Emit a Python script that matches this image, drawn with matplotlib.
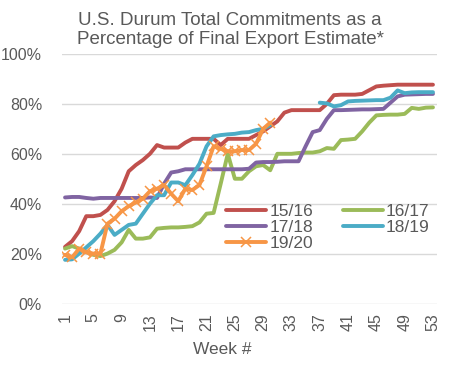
import numpy as np
import matplotlib
matplotlib.use("Agg")
import matplotlib.pyplot as plt

plt.rcParams['font.family'] = ['Liberation Sans', 'DejaVu Sans']

weeks = list(range(1, 54))

# % of final export estimate, by marketing-year week
s1516 = [22.7, 25, 29, 35, 35, 35.5, 37.5, 41, 46, 53, 55.5, 57.5, 60, 63.5, 62.5, 62.5, 62.5, 64.5,
         66, 66, 66, 66, 63.5, 66, 66, 66, 66, 67.5, 69, 71, 73, 76.5, 77.5, 77.5, 77.5, 77.5, 77.5,
         80, 83.5, 83.7, 83.7, 83.7, 84, 85.5, 87, 87.3, 87.5, 87.7, 87.7, 87.7, 87.7, 87.7, 87.7]
s1617 = [22, 23, 22, 20.7, 19.5, 19, 20, 21.5, 24.5, 29.5, 26, 26, 26.5, 30, 30.3, 30.5, 30.5, 30.7,
         31, 32.5, 36, 36.3, 48, 60, 50, 50, 53, 55, 55.5, 53.4, 60, 60, 60, 60.3, 60.5, 60.5, 61,
         62.3, 62, 65.5, 65.7, 66, 69, 72.5, 75.4, 75.6, 75.7, 75.7, 76, 78.4, 78, 78.5, 78.6]
s1718 = [42.5, 42.7, 42.7, 42.3, 42, 42.3, 42.3, 42.3, 42.3, 42.3, 42.3, 42.3, 42.5, 42.3, 48, 52.5,
         53, 53.8, 53.8, 53.8, 53.8, 53.8, 53.8, 53.8, 53.8, 53.8, 54, 56.5, 56.7, 56.7, 56.8, 57, 57,
         57, 63, 68.7, 69.5, 74, 77.5, 77.5, 77.6, 77.7, 77.8, 77.8, 77.9, 78, 80.5, 83, 83.7, 83.8,
         83.9, 84, 84]
s1819 = [17.5, 17.7, 20, 22.5, 25, 28, 31.5, 27.5, 29.5, 31.5, 32, 36, 40, 43.4, 43.4, 48.5, 48.5,
         47.4, 51.5, 56, 63, 67, 67.5, 67.8, 68, 68.5, 68.7, 69.5, 70, 71.5,
         None, None, None, None, None, None,
         80.5, 80.2, 79, 79.5, 81, 81.2, 81.3, 81.4, 81.5, 81.5, 82.5, 85.4, 84.3, 84.6, 84.7, 84.7, 84.7]
s1920 = [19.5, 18.5, 22, 20.5, 20, 20, 32, 34, 37, 39, 40.5, 42, 45, 46, 47.5, 44, 41, 46, 45.5,
         47.5, 55, 63, 62, 61, 61, 61.5, 61.5, 64, 70, 72.5]

labels = ["15/16", "16/17", "17/18", "18/19", "19/20"]
colors = ["#C0504D", "#9BBB59", "#8064A2", "#4BACC6", "#F79646"]

fig = plt.figure(figsize=(4.61, 3.68), dpi=100)
ax = fig.add_axes([61.5 / 461, 1 - 303.5 / 368, 375 / 461, 249.5 / 368])

lw = 2.8
h = {}
for lab, col, ser in zip(labels[:4], colors[:4], [s1516, s1617, s1718, s1819]):
    y = np.array([np.nan if v is None else v for v in ser], dtype=float) / 100
    h[lab], = ax.plot(weeks[:len(y)], y, color=col, lw=lw, solid_capstyle='round',
                      solid_joinstyle='round')
y = np.array(s1920) / 100
h["19/20"], = ax.plot(weeks[:len(y)], y, color=colors[4], lw=lw, marker='x',
                      markersize=7.5, markeredgewidth=1.1, solid_capstyle='round',
                      solid_joinstyle='round')

ax.set_xlim(0.5, 53.5)
ax.set_ylim(0, 1)
ax.set_yticks(np.arange(0, 1.01, 0.2))
ax.set_yticklabels([f"{int(round(v * 100))}%" for v in np.arange(0, 1.01, 0.2)])
ax.set_xticks(list(range(1, 54, 4)))
ax.set_xticklabels([str(w) for w in range(1, 54, 4)], rotation=90)
ax.tick_params(length=0, colors="#595959", labelsize=11.5)
ax.tick_params(axis='y', pad=14)
ax.tick_params(axis='x', pad=7)
for s in ax.spines.values():
    s.set_visible(False)
ax.grid(axis='y', color="#D9D9D9", lw=1)
ax.set_axisbelow(True)

order = ["15/16", "17/18", "19/20", "16/17", "18/19"]
fig.legend([h[k] for k in order], order, ncol=2, loc='upper left',
           bbox_to_anchor=(226 / 461, 1 - 204 / 368), frameon=False, fontsize=12.5,
           handlelength=2.3, handletextpad=0.2, columnspacing=1.7, labelspacing=0.05,
           borderpad=0, borderaxespad=0, labelcolor="#595959")

fig.text(230 / 461, 1 - 30 / 368,
         "U.S. Durum Total Commitments as a\nPercentage of Final Export Estimate*",
         ha='center', va='center', fontsize=13.5, color="#595959", linespacing=1.15)
fig.text(222 / 461, 1 - 350 / 368, "Week #", ha='center', va='center',
         fontsize=12.5, color="#595959")

fig.savefig("out.png", dpi=100)
